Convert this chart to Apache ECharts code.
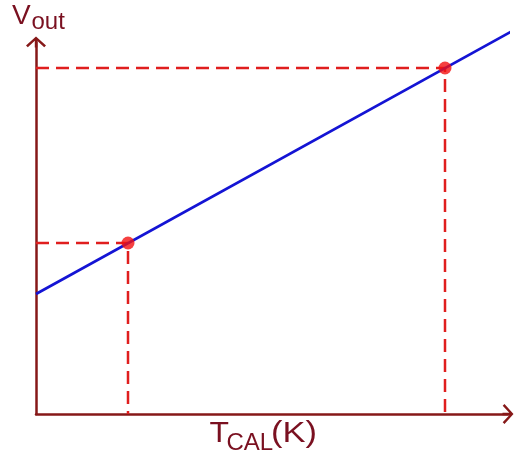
<!DOCTYPE html>
<html>
<head>
<meta charset="utf-8">
<title>Vout vs TCAL</title>
<script src="https://cdn.jsdelivr.net/npm/echarts@6/dist/echarts.min.js"></script>
<style>
  html, body { margin: 0; padding: 0; background: #ffffff; }
  #chart { width: 514px; height: 459px; }
</style>
</head>
<body>
<div id="chart"></div>
<script>
// Calibration temperatures and the matching output voltages (arbitrary units)
const calTemps = [92, 409];
const calVolts = [171, 346];

// Transfer characteristic: ends of the straight Vout(T) line
const lineTemps = [0, 478];
const lineVolts = [120, 384];

// Axis extents
const tempMax = 472;
const voltMax = 372;

const axisColor = '#861818';
const textColor = '#7a1020';
const guideColor = '#e01e1e';
const lineColor = '#1414d4';
const dotColor = '#f21010';

// open chevron arrow head, drawn at the end of each axis line
const chevron = 'path://M0,0 L10,9 L8.2,10.8 L1.2,4.2 L1.2,11 L-1.2,11 L-1.2,4.2 L-8.2,10.8 L-10,9 Z';

function axis(max) {
  return {
    type: 'value', min: 0, max: max,
    axisLine: {
      show: true, onZero: false,
      symbol: ['none', chevron], symbolSize: [20, 11],
      lineStyle: { color: axisColor, width: 2.5 }
    },
    axisTick: { show: false },
    axisLabel: { show: false },
    splitLine: { show: false }
  };
}

// dashed guides from each calibration point down to the T axis and across to the V axis
const guideSeries = calTemps.map((t, i) => ({
  type: 'line',
  data: [[0, calVolts[i]], [t, calVolts[i]], [t, 0]],
  symbol: 'none',
  clip: false,
  silent: true,
  z: 2,
  lineStyle: { color: guideColor, width: 2.5, type: [13, 7] }
}));

const font = (size) => size + 'px "Liberation Sans", Arial, sans-serif';

const option = {
  backgroundColor: '#ffffff',
  animation: false,
  grid: { left: 36, right: 6, top: 42, bottom: 45 },
  xAxis: axis(tempMax),
  yAxis: axis(voltMax),
  series: guideSeries.concat([
    {
      type: 'line',
      data: lineTemps.map((t, i) => [t, lineVolts[i]]),
      symbol: 'none',
      clip: false,
      z: 3,
      lineStyle: { color: lineColor, width: 2.6 }
    },
    {
      type: 'scatter',
      data: calTemps.map((t, i) => [t, calVolts[i]]),
      symbol: 'circle',
      symbolSize: 13,
      clip: false,
      z: 4,
      itemStyle: { color: dotColor }
    }
  ]),
  graphic: [
    { type: 'text', x: 12, y: 16.7, style: { text: 'V', font: font(28), fill: textColor, verticalAlign: 'middle' } },
    { type: 'text', x: 31.5, y: 22, style: { text: 'out', font: font(24), fill: textColor, verticalAlign: 'middle' } },
    { type: 'text', x: 209.5, y: 433.5, scaleX: 1.1, style: { text: 'T', font: font(29), fill: textColor, verticalAlign: 'middle' } },
    { type: 'text', x: 226.5, y: 443, style: { text: 'CAL', font: font(24), fill: textColor, verticalAlign: 'middle' } },
    { type: 'text', x: 271, y: 434, scaleX: 1.15, style: { text: '(K)', font: font(30), fill: textColor, verticalAlign: 'middle' } }
  ]
};

const chart = echarts.init(document.getElementById('chart'), null, { renderer: 'canvas' });
chart.setOption(option);
</script>
</body>
</html>
